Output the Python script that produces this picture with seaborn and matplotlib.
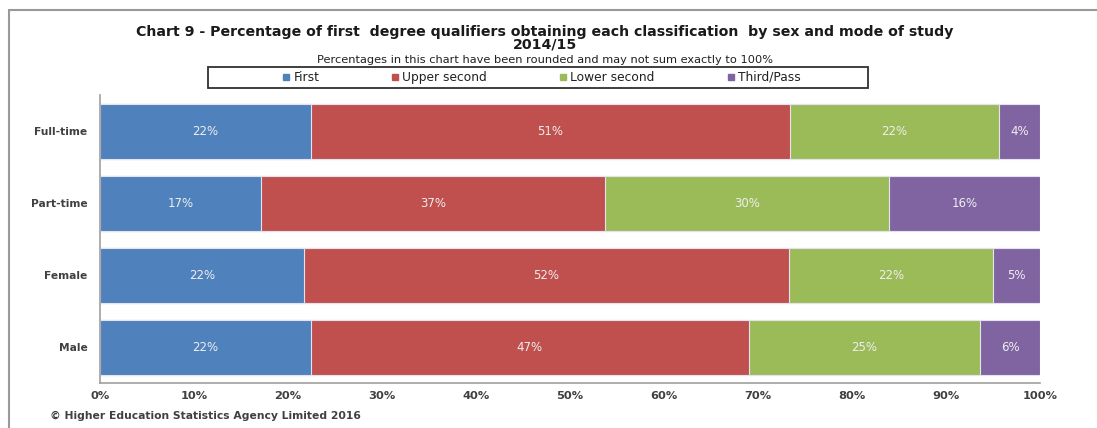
import matplotlib
matplotlib.use("Agg")
import matplotlib.pyplot as plt
import seaborn as sns
import pandas as pd
from matplotlib.lines import Line2D
from matplotlib.patches import Rectangle

categories = ["Full-time", "Part-time", "Female", "Male"]
series = ["First", "Upper second", "Lower second", "Third/Pass"]
first = [22.4, 17.1, 21.7, 22.4]
upper_second = [51.0, 36.6, 51.6, 46.6]
lower_second = [22.2, 30.2, 21.7, 24.6]
third_pass = [4.4, 16.1, 5.0, 6.4]
colors = ["#4F81BD", "#C0504D", "#9BBB59", "#8064A2"]
x_ticks = [0, 10, 20, 30, 40, 50, 60, 70, 80, 90, 100]

sns.set_style("white")
plt.rcParams["font.family"] = ["DejaVu Sans"]

df = pd.DataFrame({"cat": categories, "First": first, "Upper second": upper_second,
                   "Lower second": lower_second, "Third/Pass": third_pass})
cum = df[series].cumsum(axis=1)

fig = plt.figure(figsize=(10.97, 4.28), dpi=100)
ax = fig.add_axes([0.0912, 0.1051, 0.8569, 0.6729])

# stacked bars: draw cumulative totals from the back to the front
for s, c in reversed(list(zip(series, colors))):
    sns.barplot(x=cum[s], y=df["cat"], color=c, orient="h", width=0.764, ax=ax,
                edgecolor="#E4E2EE", linewidth=0.8, saturation=1)

for i in range(len(df)):
    left = 0
    for s in series:
        v = df.loc[i, s]
        ax.text(left + v / 2, i, f"{v:.0f}%", ha="center", va="center",
                color="#EEEEEE", fontsize=8.5)
        left += v

ax.set_xlim(0, 100)
ax.set_ylim(3.5, -0.5)
ax.set_xticks(x_ticks)
ax.set_xticklabels([f"{t}%" for t in x_ticks], fontsize=8.2, fontweight="bold", color="#404040")
ax.set_yticks(range(len(categories)))
ax.set_yticklabels(categories, fontsize=7.7, fontweight="bold", color="#404040")
ax.set_yticks([-0.5, 0.5, 1.5, 2.5, 3.5], minor=True)
ax.tick_params(axis="y", which="major", length=0, pad=9)
ax.tick_params(axis="y", which="minor", length=4, color="#909090", width=1, direction="out")
ax.tick_params(axis="x", length=4, color="#909090", width=1, direction="out", pad=2)
ax.set_xlabel("")
ax.set_ylabel("")
for sp in ["top", "right"]:
    ax.spines[sp].set_visible(False)
for sp in ["left", "bottom"]:
    ax.spines[sp].set_color("#A0A0A0")
    ax.spines[sp].set_linewidth(1.2)

# titles
fig.text(0.497, 0.925, "Chart 9 - Percentage of first  degree qualifiers obtaining each classification  by sex and mode of study",
         ha="center", va="center", fontsize=10.2, fontweight="bold", color="#1A1A1A")
fig.text(0.497, 0.896, "2014/15", ha="center", va="center", fontsize=10.2,
         fontweight="bold", color="#1A1A1A")
fig.text(0.497, 0.86, "Percentages in this chart have been rounded and may not sum exactly to 100%",
         ha="center", va="center", fontsize=8.2, color="#202020")

# legend with its own box
fig.add_artist(Rectangle((0.1896, 0.7944), 0.6017, 0.049, transform=fig.transFigure,
                         facecolor="white", edgecolor="#303030", linewidth=1.3))
handles = [Line2D([], [], marker="s", linestyle="none", markersize=4, color=c) for c in colors]
fig.legend(handles, series, loc="center", bbox_to_anchor=(0.4936, 0.819), ncol=4,
           frameon=False, fontsize=8.8, handlelength=0.6, handletextpad=0.3,
           columnspacing=5.9, labelcolor="#202020")

fig.text(0.046, 0.027, "© Higher Education Statistics Agency Limited 2016", ha="left",
         va="center", fontsize=7.75, fontweight="bold", color="#404040")

# chart area border (top and left)
fig.add_artist(Line2D([0.0085, 1.0], [0.977, 0.977], transform=fig.transFigure,
                      color="#999999", linewidth=1.5))
fig.add_artist(Line2D([0.0085, 0.0085], [0.0, 0.977], transform=fig.transFigure,
                      color="#999999", linewidth=1.5))

fig.savefig("out.png", dpi=100)
